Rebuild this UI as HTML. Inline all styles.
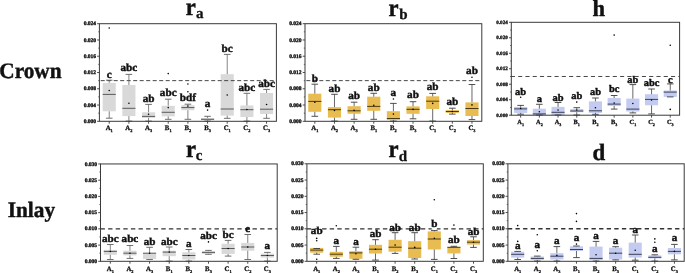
<!DOCTYPE html>
<html><head><meta charset="utf-8"><title>fig</title>
<style>
html,body{margin:0;padding:0;background:#fff;}
body{width:685px;height:273px;overflow:hidden;}
svg{display:block;}
svg text{font-family:'Liberation Serif', serif;font-weight:bold;text-rendering:geometricPrecision;fill:#111;stroke:#111;stroke-width:0.42px;stroke-linejoin:round;}
svg text.big{stroke-width:0.45px;}
svg text.tk{stroke-width:0.34px;}
svg text.xl{stroke-width:0.28px;}
svg text.sub{stroke-width:0.3px;}
</style></head><body>
<svg width="685" height="273" viewBox="0 0 685 273">
<defs><filter id="nf" filterUnits="userSpaceOnUse" x="0" y="0" width="685" height="273" color-interpolation-filters="sRGB"><feGaussianBlur stdDeviation="0.38"/></filter></defs>
<rect width="685" height="273" fill="#fff"/>
<g filter="url(#nf)">
<text class="big" transform="translate(-0.7 78) scale(0.962 1)" font-size="22.1">Crown</text>
<text class="big" transform="translate(7.7 217.1) scale(0.968 1)" font-size="22.0">Inlay</text>
<g>
<rect x="102.68" y="82.90" width="13.10" height="28.40" fill="#d9d9d9"/>
<rect x="122.35" y="85.00" width="13.10" height="31.10" fill="#d9d9d9"/>
<rect x="142.02" y="112.30" width="13.10" height="5.60" fill="#d9d9d9"/>
<rect x="161.68" y="105.80" width="13.10" height="10.60" fill="#d9d9d9"/>
<rect x="181.35" y="105.20" width="13.10" height="5.00" fill="#d9d9d9"/>
<rect x="201.02" y="118.00" width="13.10" height="2.20" fill="#d9d9d9"/>
<rect x="220.68" y="74.20" width="13.10" height="41.40" fill="#d9d9d9"/>
<rect x="240.35" y="105.50" width="13.10" height="11.50" fill="#d9d9d9"/>
<rect x="260.02" y="93.00" width="13.10" height="21.00" fill="#d9d9d9"/>
<line x1="100.70" y1="80.63" x2="276.40" y2="80.63" stroke="#333" stroke-width="0.90" stroke-dasharray="4.00 2.50"/>
<line x1="109.23" y1="80.20" x2="109.23" y2="82.90" stroke="#606060" stroke-width="0.78"/>
<line x1="105.93" y1="80.20" x2="112.53" y2="80.20" stroke="#606060" stroke-width="0.9"/>
<line x1="109.23" y1="111.30" x2="109.23" y2="118.20" stroke="#606060" stroke-width="0.78"/>
<line x1="105.93" y1="118.20" x2="112.53" y2="118.20" stroke="#606060" stroke-width="0.9"/>
<line x1="102.68" y1="94.40" x2="115.78" y2="94.40" stroke="#5a5a5a" stroke-width="1.0"/>
<circle cx="109.23" cy="90.50" r="0.8" fill="#000"/>
<circle cx="109.23" cy="28.00" r="0.8" fill="#000"/>
<text transform="translate(109.23 77.70) scale(1.020 1)" font-size="11.0" text-anchor="middle">c</text>
<line x1="128.90" y1="74.40" x2="128.90" y2="85.00" stroke="#606060" stroke-width="0.78"/>
<line x1="125.60" y1="74.40" x2="132.20" y2="74.40" stroke="#606060" stroke-width="0.9"/>
<line x1="128.90" y1="116.10" x2="128.90" y2="121.10" stroke="#606060" stroke-width="0.78"/>
<line x1="125.60" y1="121.10" x2="132.20" y2="121.10" stroke="#606060" stroke-width="0.9"/>
<line x1="122.35" y1="108.30" x2="135.45" y2="108.30" stroke="#5a5a5a" stroke-width="1.0"/>
<circle cx="128.90" cy="103.20" r="0.8" fill="#000"/>
<text transform="translate(128.90 71.40) scale(1.020 1)" font-size="11.0" text-anchor="middle">abc</text>
<line x1="148.57" y1="104.40" x2="148.57" y2="112.30" stroke="#606060" stroke-width="0.78"/>
<line x1="145.27" y1="104.40" x2="151.87" y2="104.40" stroke="#606060" stroke-width="0.9"/>
<line x1="148.57" y1="117.90" x2="148.57" y2="121.10" stroke="#606060" stroke-width="0.78"/>
<line x1="145.27" y1="121.10" x2="151.87" y2="121.10" stroke="#606060" stroke-width="0.9"/>
<line x1="142.02" y1="116.40" x2="155.12" y2="116.40" stroke="#5a5a5a" stroke-width="1.0"/>
<circle cx="148.57" cy="114.20" r="0.8" fill="#000"/>
<text transform="translate(148.57 101.70) scale(1.020 1)" font-size="11.0" text-anchor="middle">ab</text>
<line x1="168.23" y1="99.20" x2="168.23" y2="105.80" stroke="#606060" stroke-width="0.78"/>
<line x1="164.93" y1="99.20" x2="171.53" y2="99.20" stroke="#606060" stroke-width="0.9"/>
<line x1="168.23" y1="116.40" x2="168.23" y2="119.30" stroke="#606060" stroke-width="0.78"/>
<line x1="164.93" y1="119.30" x2="171.53" y2="119.30" stroke="#606060" stroke-width="0.9"/>
<line x1="161.68" y1="112.30" x2="174.78" y2="112.30" stroke="#5a5a5a" stroke-width="1.0"/>
<circle cx="168.23" cy="107.60" r="0.8" fill="#000"/>
<circle cx="168.23" cy="73.60" r="0.8" fill="#000"/>
<text transform="translate(168.23 96.40) scale(1.020 1)" font-size="11.0" text-anchor="middle">abc</text>
<line x1="187.90" y1="104.20" x2="187.90" y2="105.20" stroke="#606060" stroke-width="0.78"/>
<line x1="184.60" y1="104.20" x2="191.20" y2="104.20" stroke="#606060" stroke-width="0.9"/>
<line x1="187.90" y1="110.20" x2="187.90" y2="119.30" stroke="#606060" stroke-width="0.78"/>
<line x1="184.60" y1="119.30" x2="191.20" y2="119.30" stroke="#606060" stroke-width="0.9"/>
<line x1="181.35" y1="107.60" x2="194.45" y2="107.60" stroke="#5a5a5a" stroke-width="1.0"/>
<circle cx="187.90" cy="106.10" r="0.8" fill="#000"/>
<circle cx="187.90" cy="84.00" r="0.8" fill="#000"/>
<circle cx="187.90" cy="91.70" r="0.8" fill="#000"/>
<text transform="translate(187.90 101.30) scale(1.020 1)" font-size="11.0" text-anchor="middle">bdf</text>
<line x1="207.57" y1="116.30" x2="207.57" y2="118.00" stroke="#606060" stroke-width="0.78"/>
<line x1="204.27" y1="116.30" x2="210.87" y2="116.30" stroke="#606060" stroke-width="0.9"/>
<line x1="207.57" y1="120.20" x2="207.57" y2="121.10" stroke="#606060" stroke-width="0.78"/>
<line x1="204.27" y1="121.10" x2="210.87" y2="121.10" stroke="#606060" stroke-width="0.9"/>
<line x1="201.02" y1="119.30" x2="214.12" y2="119.30" stroke="#5a5a5a" stroke-width="1.0"/>
<circle cx="207.57" cy="110.10" r="0.8" fill="#000"/>
<text transform="translate(207.57 107.30) scale(1.020 1)" font-size="11.0" text-anchor="middle">a</text>
<line x1="227.23" y1="54.40" x2="227.23" y2="74.20" stroke="#606060" stroke-width="0.78"/>
<line x1="223.93" y1="54.40" x2="230.53" y2="54.40" stroke="#606060" stroke-width="0.9"/>
<line x1="227.23" y1="115.60" x2="227.23" y2="118.30" stroke="#606060" stroke-width="0.78"/>
<line x1="223.93" y1="118.30" x2="230.53" y2="118.30" stroke="#606060" stroke-width="0.9"/>
<line x1="220.68" y1="109.00" x2="233.78" y2="109.00" stroke="#5a5a5a" stroke-width="1.0"/>
<circle cx="227.23" cy="95.00" r="0.8" fill="#000"/>
<text transform="translate(227.23 51.50) scale(1.020 1)" font-size="11.0" text-anchor="middle">bc</text>
<line x1="246.90" y1="93.30" x2="246.90" y2="105.50" stroke="#606060" stroke-width="0.78"/>
<line x1="243.60" y1="93.30" x2="250.20" y2="93.30" stroke="#606060" stroke-width="0.9"/>
<line x1="246.90" y1="117.00" x2="246.90" y2="121.10" stroke="#606060" stroke-width="0.78"/>
<line x1="243.60" y1="121.10" x2="250.20" y2="121.10" stroke="#606060" stroke-width="0.9"/>
<line x1="240.35" y1="109.70" x2="253.45" y2="109.70" stroke="#5a5a5a" stroke-width="1.0"/>
<circle cx="246.90" cy="109.50" r="0.8" fill="#000"/>
<text transform="translate(246.90 90.80) scale(1.020 1)" font-size="11.0" text-anchor="middle">abc</text>
<line x1="266.57" y1="89.40" x2="266.57" y2="93.00" stroke="#606060" stroke-width="0.78"/>
<line x1="263.27" y1="89.40" x2="269.87" y2="89.40" stroke="#606060" stroke-width="0.9"/>
<line x1="266.57" y1="114.00" x2="266.57" y2="118.30" stroke="#606060" stroke-width="0.78"/>
<line x1="263.27" y1="118.30" x2="269.87" y2="118.30" stroke="#606060" stroke-width="0.9"/>
<line x1="260.02" y1="109.20" x2="273.12" y2="109.20" stroke="#5a5a5a" stroke-width="1.0"/>
<circle cx="266.57" cy="104.50" r="0.8" fill="#000"/>
<text transform="translate(266.57 86.70) scale(1.020 1)" font-size="11.0" text-anchor="middle">abc</text>
<rect x="99.40" y="23.70" width="177.00" height="97.60" fill="none" stroke="#3a3a3a" stroke-width="1"/>
<line x1="97.10" y1="121.30" x2="99.40" y2="121.30" stroke="#3a3a3a" stroke-width="0.9"/>
<line x1="98.20" y1="113.17" x2="99.40" y2="113.17" stroke="#3a3a3a" stroke-width="0.7"/>
<text x="96.00" y="122.90" class="tk" font-size="5.5" text-anchor="end">0.000</text>
<line x1="97.10" y1="105.03" x2="99.40" y2="105.03" stroke="#3a3a3a" stroke-width="0.9"/>
<line x1="98.20" y1="96.90" x2="99.40" y2="96.90" stroke="#3a3a3a" stroke-width="0.7"/>
<text x="96.00" y="106.63" class="tk" font-size="5.5" text-anchor="end">0.004</text>
<line x1="97.10" y1="88.77" x2="99.40" y2="88.77" stroke="#3a3a3a" stroke-width="0.9"/>
<line x1="98.20" y1="80.63" x2="99.40" y2="80.63" stroke="#3a3a3a" stroke-width="0.7"/>
<text x="96.00" y="90.37" class="tk" font-size="5.5" text-anchor="end">0.008</text>
<line x1="97.10" y1="72.50" x2="99.40" y2="72.50" stroke="#3a3a3a" stroke-width="0.9"/>
<line x1="98.20" y1="64.37" x2="99.40" y2="64.37" stroke="#3a3a3a" stroke-width="0.7"/>
<text x="96.00" y="74.10" class="tk" font-size="5.5" text-anchor="end">0.012</text>
<line x1="97.10" y1="56.23" x2="99.40" y2="56.23" stroke="#3a3a3a" stroke-width="0.9"/>
<line x1="98.20" y1="48.10" x2="99.40" y2="48.10" stroke="#3a3a3a" stroke-width="0.7"/>
<text x="96.00" y="57.83" class="tk" font-size="5.5" text-anchor="end">0.016</text>
<line x1="97.10" y1="39.97" x2="99.40" y2="39.97" stroke="#3a3a3a" stroke-width="0.9"/>
<line x1="98.20" y1="31.83" x2="99.40" y2="31.83" stroke="#3a3a3a" stroke-width="0.7"/>
<text x="96.00" y="41.57" class="tk" font-size="5.5" text-anchor="end">0.020</text>
<line x1="97.10" y1="23.70" x2="99.40" y2="23.70" stroke="#3a3a3a" stroke-width="0.9"/>
<text x="96.00" y="25.30" class="tk" font-size="5.5" text-anchor="end">0.024</text>
<line x1="109.23" y1="121.30" x2="109.23" y2="123.70" stroke="#3a3a3a" stroke-width="0.9"/>
<text class="xl" x="109.23" y="130.40" font-size="6.80" text-anchor="middle">A<tspan font-size="4.35" dy="1.8">1</tspan></text>
<line x1="128.90" y1="121.30" x2="128.90" y2="123.70" stroke="#3a3a3a" stroke-width="0.9"/>
<text class="xl" x="128.90" y="130.40" font-size="6.80" text-anchor="middle">A<tspan font-size="4.35" dy="1.8">2</tspan></text>
<line x1="148.57" y1="121.30" x2="148.57" y2="123.70" stroke="#3a3a3a" stroke-width="0.9"/>
<text class="xl" x="148.57" y="130.40" font-size="6.80" text-anchor="middle">A<tspan font-size="4.35" dy="1.8">3</tspan></text>
<line x1="168.23" y1="121.30" x2="168.23" y2="123.70" stroke="#3a3a3a" stroke-width="0.9"/>
<text class="xl" x="168.23" y="130.40" font-size="6.80" text-anchor="middle">B<tspan font-size="4.35" dy="1.8">1</tspan></text>
<line x1="187.90" y1="121.30" x2="187.90" y2="123.70" stroke="#3a3a3a" stroke-width="0.9"/>
<text class="xl" x="187.90" y="130.40" font-size="6.80" text-anchor="middle">B<tspan font-size="4.35" dy="1.8">2</tspan></text>
<line x1="207.57" y1="121.30" x2="207.57" y2="123.70" stroke="#3a3a3a" stroke-width="0.9"/>
<text class="xl" x="207.57" y="130.40" font-size="6.80" text-anchor="middle">B<tspan font-size="4.35" dy="1.8">3</tspan></text>
<line x1="227.23" y1="121.30" x2="227.23" y2="123.70" stroke="#3a3a3a" stroke-width="0.9"/>
<text class="xl" x="227.23" y="130.40" font-size="6.80" text-anchor="middle">C<tspan font-size="4.35" dy="1.8">1</tspan></text>
<line x1="246.90" y1="121.30" x2="246.90" y2="123.70" stroke="#3a3a3a" stroke-width="0.9"/>
<text class="xl" x="246.90" y="130.40" font-size="6.80" text-anchor="middle">C<tspan font-size="4.35" dy="1.8">2</tspan></text>
<line x1="266.57" y1="121.30" x2="266.57" y2="123.70" stroke="#3a3a3a" stroke-width="0.9"/>
<text class="xl" x="266.57" y="130.40" font-size="6.80" text-anchor="middle">C<tspan font-size="4.35" dy="1.8">3</tspan></text>
<text class="big" transform="translate(185.70 15.30) scale(0.920 1)" font-size="24.6">r</text>
<text class="sub" x="196.10" y="18.20" font-size="15.0">a</text>
</g>
<g>
<rect x="308.27" y="93.70" width="13.10" height="18.10" fill="#e8bc50"/>
<rect x="327.92" y="107.10" width="13.10" height="10.50" fill="#e8bc50"/>
<rect x="347.56" y="106.20" width="13.10" height="7.60" fill="#e8bc50"/>
<rect x="367.21" y="96.70" width="13.10" height="14.10" fill="#e8bc50"/>
<rect x="386.85" y="111.20" width="13.10" height="8.70" fill="#e8bc50"/>
<rect x="406.49" y="106.40" width="13.10" height="7.40" fill="#e8bc50"/>
<rect x="426.14" y="96.30" width="13.10" height="12.70" fill="#e8bc50"/>
<rect x="445.78" y="110.10" width="13.10" height="2.80" fill="#e8bc50"/>
<rect x="465.43" y="102.40" width="13.10" height="13.60" fill="#e8bc50"/>
<line x1="306.30" y1="80.63" x2="481.80" y2="80.63" stroke="#333" stroke-width="0.90" stroke-dasharray="4.00 2.50"/>
<line x1="314.82" y1="84.20" x2="314.82" y2="93.70" stroke="#3c3c3c" stroke-width="0.78"/>
<line x1="311.52" y1="84.20" x2="318.12" y2="84.20" stroke="#3c3c3c" stroke-width="0.9"/>
<line x1="314.82" y1="111.80" x2="314.82" y2="116.30" stroke="#3c3c3c" stroke-width="0.78"/>
<line x1="311.52" y1="116.30" x2="318.12" y2="116.30" stroke="#3c3c3c" stroke-width="0.9"/>
<line x1="308.27" y1="101.40" x2="321.37" y2="101.40" stroke="#4a3a12" stroke-width="1.0"/>
<circle cx="314.82" cy="102.20" r="0.8" fill="#000"/>
<text transform="translate(314.82 82.10) scale(1.020 1)" font-size="11.0" text-anchor="middle">b</text>
<line x1="334.47" y1="94.30" x2="334.47" y2="107.10" stroke="#3c3c3c" stroke-width="0.78"/>
<line x1="331.17" y1="94.30" x2="337.77" y2="94.30" stroke="#3c3c3c" stroke-width="0.9"/>
<line x1="334.47" y1="117.60" x2="334.47" y2="121.10" stroke="#3c3c3c" stroke-width="0.78"/>
<line x1="331.17" y1="121.10" x2="337.77" y2="121.10" stroke="#3c3c3c" stroke-width="0.9"/>
<line x1="327.92" y1="109.70" x2="341.02" y2="109.70" stroke="#4a3a12" stroke-width="1.0"/>
<circle cx="334.47" cy="110.50" r="0.8" fill="#000"/>
<text transform="translate(334.47 91.70) scale(1.020 1)" font-size="11.0" text-anchor="middle">ab</text>
<line x1="354.11" y1="102.20" x2="354.11" y2="106.20" stroke="#3c3c3c" stroke-width="0.78"/>
<line x1="350.81" y1="102.20" x2="357.41" y2="102.20" stroke="#3c3c3c" stroke-width="0.9"/>
<line x1="354.11" y1="113.80" x2="354.11" y2="119.30" stroke="#3c3c3c" stroke-width="0.78"/>
<line x1="350.81" y1="119.30" x2="357.41" y2="119.30" stroke="#3c3c3c" stroke-width="0.9"/>
<line x1="347.56" y1="110.80" x2="360.66" y2="110.80" stroke="#4a3a12" stroke-width="1.0"/>
<circle cx="354.11" cy="110.40" r="0.8" fill="#000"/>
<text transform="translate(354.11 99.20) scale(1.020 1)" font-size="11.0" text-anchor="middle">ab</text>
<line x1="373.76" y1="93.30" x2="373.76" y2="96.70" stroke="#3c3c3c" stroke-width="0.78"/>
<line x1="370.46" y1="93.30" x2="377.06" y2="93.30" stroke="#3c3c3c" stroke-width="0.9"/>
<line x1="373.76" y1="110.80" x2="373.76" y2="119.30" stroke="#3c3c3c" stroke-width="0.78"/>
<line x1="370.46" y1="119.30" x2="377.06" y2="119.30" stroke="#3c3c3c" stroke-width="0.9"/>
<line x1="367.21" y1="106.40" x2="380.31" y2="106.40" stroke="#4a3a12" stroke-width="1.0"/>
<circle cx="373.76" cy="105.20" r="0.8" fill="#000"/>
<text transform="translate(373.76 91.00) scale(1.020 1)" font-size="11.0" text-anchor="middle">ab</text>
<line x1="393.40" y1="103.40" x2="393.40" y2="111.20" stroke="#3c3c3c" stroke-width="0.78"/>
<line x1="390.10" y1="103.40" x2="396.70" y2="103.40" stroke="#3c3c3c" stroke-width="0.9"/>
<line x1="393.40" y1="119.90" x2="393.40" y2="121.10" stroke="#3c3c3c" stroke-width="0.78"/>
<line x1="390.10" y1="121.10" x2="396.70" y2="121.10" stroke="#3c3c3c" stroke-width="0.9"/>
<line x1="386.85" y1="118.50" x2="399.95" y2="118.50" stroke="#4a3a12" stroke-width="1.0"/>
<circle cx="393.40" cy="114.10" r="0.8" fill="#000"/>
<circle cx="393.40" cy="99.00" r="0.8" fill="#000"/>
<text transform="translate(393.40 95.80) scale(1.020 1)" font-size="11.0" text-anchor="middle">a</text>
<line x1="413.04" y1="101.70" x2="413.04" y2="106.40" stroke="#3c3c3c" stroke-width="0.78"/>
<line x1="409.74" y1="101.70" x2="416.34" y2="101.70" stroke="#3c3c3c" stroke-width="0.9"/>
<line x1="413.04" y1="113.80" x2="413.04" y2="118.80" stroke="#3c3c3c" stroke-width="0.78"/>
<line x1="409.74" y1="118.80" x2="416.34" y2="118.80" stroke="#3c3c3c" stroke-width="0.9"/>
<line x1="406.49" y1="109.30" x2="419.59" y2="109.30" stroke="#4a3a12" stroke-width="1.0"/>
<circle cx="413.04" cy="109.40" r="0.8" fill="#000"/>
<text transform="translate(413.04 98.30) scale(1.020 1)" font-size="11.0" text-anchor="middle">ab</text>
<line x1="432.69" y1="93.40" x2="432.69" y2="96.30" stroke="#3c3c3c" stroke-width="0.78"/>
<line x1="429.39" y1="93.40" x2="435.99" y2="93.40" stroke="#3c3c3c" stroke-width="0.9"/>
<line x1="432.69" y1="109.00" x2="432.69" y2="121.10" stroke="#3c3c3c" stroke-width="0.78"/>
<line x1="429.39" y1="121.10" x2="435.99" y2="121.10" stroke="#3c3c3c" stroke-width="0.9"/>
<line x1="426.14" y1="101.20" x2="439.24" y2="101.20" stroke="#4a3a12" stroke-width="1.0"/>
<circle cx="432.69" cy="103.40" r="0.8" fill="#000"/>
<text transform="translate(432.69 90.40) scale(1.020 1)" font-size="11.0" text-anchor="middle">ab</text>
<line x1="452.33" y1="108.20" x2="452.33" y2="110.10" stroke="#3c3c3c" stroke-width="0.78"/>
<line x1="449.03" y1="108.20" x2="455.63" y2="108.20" stroke="#3c3c3c" stroke-width="0.9"/>
<line x1="452.33" y1="112.90" x2="452.33" y2="114.10" stroke="#3c3c3c" stroke-width="0.78"/>
<line x1="449.03" y1="114.10" x2="455.63" y2="114.10" stroke="#3c3c3c" stroke-width="0.9"/>
<line x1="445.78" y1="111.50" x2="458.88" y2="111.50" stroke="#4a3a12" stroke-width="1.0"/>
<circle cx="452.33" cy="111.50" r="0.8" fill="#000"/>
<text transform="translate(452.33 105.30) scale(1.020 1)" font-size="11.0" text-anchor="middle">ab</text>
<line x1="471.98" y1="84.50" x2="471.98" y2="102.40" stroke="#3c3c3c" stroke-width="0.78"/>
<line x1="468.68" y1="84.50" x2="475.28" y2="84.50" stroke="#3c3c3c" stroke-width="0.9"/>
<line x1="471.98" y1="116.00" x2="471.98" y2="119.60" stroke="#3c3c3c" stroke-width="0.78"/>
<line x1="468.68" y1="119.60" x2="475.28" y2="119.60" stroke="#3c3c3c" stroke-width="0.9"/>
<line x1="465.43" y1="108.50" x2="478.53" y2="108.50" stroke="#4a3a12" stroke-width="1.0"/>
<circle cx="471.98" cy="104.90" r="0.8" fill="#000"/>
<circle cx="471.98" cy="77.20" r="0.8" fill="#000"/>
<text transform="translate(471.98 74.20) scale(1.020 1)" font-size="11.0" text-anchor="middle">ab</text>
<rect x="305.00" y="23.70" width="176.80" height="97.60" fill="none" stroke="#3a3a3a" stroke-width="1"/>
<line x1="302.70" y1="121.30" x2="305.00" y2="121.30" stroke="#3a3a3a" stroke-width="0.9"/>
<line x1="303.80" y1="113.17" x2="305.00" y2="113.17" stroke="#3a3a3a" stroke-width="0.7"/>
<text x="301.60" y="122.90" class="tk" font-size="5.5" text-anchor="end">0.000</text>
<line x1="302.70" y1="105.03" x2="305.00" y2="105.03" stroke="#3a3a3a" stroke-width="0.9"/>
<line x1="303.80" y1="96.90" x2="305.00" y2="96.90" stroke="#3a3a3a" stroke-width="0.7"/>
<text x="301.60" y="106.63" class="tk" font-size="5.5" text-anchor="end">0.004</text>
<line x1="302.70" y1="88.77" x2="305.00" y2="88.77" stroke="#3a3a3a" stroke-width="0.9"/>
<line x1="303.80" y1="80.63" x2="305.00" y2="80.63" stroke="#3a3a3a" stroke-width="0.7"/>
<text x="301.60" y="90.37" class="tk" font-size="5.5" text-anchor="end">0.008</text>
<line x1="302.70" y1="72.50" x2="305.00" y2="72.50" stroke="#3a3a3a" stroke-width="0.9"/>
<line x1="303.80" y1="64.37" x2="305.00" y2="64.37" stroke="#3a3a3a" stroke-width="0.7"/>
<text x="301.60" y="74.10" class="tk" font-size="5.5" text-anchor="end">0.012</text>
<line x1="302.70" y1="56.23" x2="305.00" y2="56.23" stroke="#3a3a3a" stroke-width="0.9"/>
<line x1="303.80" y1="48.10" x2="305.00" y2="48.10" stroke="#3a3a3a" stroke-width="0.7"/>
<text x="301.60" y="57.83" class="tk" font-size="5.5" text-anchor="end">0.016</text>
<line x1="302.70" y1="39.97" x2="305.00" y2="39.97" stroke="#3a3a3a" stroke-width="0.9"/>
<line x1="303.80" y1="31.83" x2="305.00" y2="31.83" stroke="#3a3a3a" stroke-width="0.7"/>
<text x="301.60" y="41.57" class="tk" font-size="5.5" text-anchor="end">0.020</text>
<line x1="302.70" y1="23.70" x2="305.00" y2="23.70" stroke="#3a3a3a" stroke-width="0.9"/>
<text x="301.60" y="25.30" class="tk" font-size="5.5" text-anchor="end">0.024</text>
<line x1="314.82" y1="121.30" x2="314.82" y2="123.70" stroke="#3a3a3a" stroke-width="0.9"/>
<text class="xl" x="314.82" y="130.40" font-size="6.80" text-anchor="middle">A<tspan font-size="4.35" dy="1.8">1</tspan></text>
<line x1="334.47" y1="121.30" x2="334.47" y2="123.70" stroke="#3a3a3a" stroke-width="0.9"/>
<text class="xl" x="334.47" y="130.40" font-size="6.80" text-anchor="middle">A<tspan font-size="4.35" dy="1.8">2</tspan></text>
<line x1="354.11" y1="121.30" x2="354.11" y2="123.70" stroke="#3a3a3a" stroke-width="0.9"/>
<text class="xl" x="354.11" y="130.40" font-size="6.80" text-anchor="middle">A<tspan font-size="4.35" dy="1.8">3</tspan></text>
<line x1="373.76" y1="121.30" x2="373.76" y2="123.70" stroke="#3a3a3a" stroke-width="0.9"/>
<text class="xl" x="373.76" y="130.40" font-size="6.80" text-anchor="middle">B<tspan font-size="4.35" dy="1.8">1</tspan></text>
<line x1="393.40" y1="121.30" x2="393.40" y2="123.70" stroke="#3a3a3a" stroke-width="0.9"/>
<text class="xl" x="393.40" y="130.40" font-size="6.80" text-anchor="middle">B<tspan font-size="4.35" dy="1.8">2</tspan></text>
<line x1="413.04" y1="121.30" x2="413.04" y2="123.70" stroke="#3a3a3a" stroke-width="0.9"/>
<text class="xl" x="413.04" y="130.40" font-size="6.80" text-anchor="middle">B<tspan font-size="4.35" dy="1.8">3</tspan></text>
<line x1="432.69" y1="121.30" x2="432.69" y2="123.70" stroke="#3a3a3a" stroke-width="0.9"/>
<text class="xl" x="432.69" y="130.40" font-size="6.80" text-anchor="middle">C<tspan font-size="4.35" dy="1.8">1</tspan></text>
<line x1="452.33" y1="121.30" x2="452.33" y2="123.70" stroke="#3a3a3a" stroke-width="0.9"/>
<text class="xl" x="452.33" y="130.40" font-size="6.80" text-anchor="middle">C<tspan font-size="4.35" dy="1.8">2</tspan></text>
<line x1="471.98" y1="121.30" x2="471.98" y2="123.70" stroke="#3a3a3a" stroke-width="0.9"/>
<text class="xl" x="471.98" y="130.40" font-size="6.80" text-anchor="middle">C<tspan font-size="4.35" dy="1.8">3</tspan></text>
<text class="big" transform="translate(388.50 16.00) scale(0.920 1)" font-size="24.6">r</text>
<text class="sub" x="399.30" y="18.60" font-size="15.0">b</text>
</g>
<g>
<rect x="514.10" y="106.90" width="13.10" height="6.00" fill="#c3cbf0"/>
<rect x="532.80" y="108.70" width="13.10" height="6.30" fill="#c3cbf0"/>
<rect x="551.50" y="106.90" width="13.10" height="8.10" fill="#c3cbf0"/>
<rect x="570.20" y="109.00" width="13.10" height="3.20" fill="#c3cbf0"/>
<rect x="588.90" y="101.40" width="13.10" height="11.50" fill="#c3cbf0"/>
<rect x="607.60" y="98.00" width="13.10" height="8.00" fill="#c3cbf0"/>
<rect x="626.30" y="98.60" width="13.10" height="12.90" fill="#c3cbf0"/>
<rect x="645.00" y="94.20" width="13.10" height="11.10" fill="#c3cbf0"/>
<rect x="663.70" y="90.50" width="13.10" height="6.40" fill="#c3cbf0"/>
<line x1="510.85" y1="76.49" x2="679.60" y2="76.49" stroke="#333" stroke-width="0.90" stroke-dasharray="4.10 3.18"/>
<line x1="520.65" y1="105.40" x2="520.65" y2="106.90" stroke="#3c3c3c" stroke-width="0.78"/>
<line x1="517.35" y1="105.40" x2="523.95" y2="105.40" stroke="#3c3c3c" stroke-width="0.9"/>
<line x1="520.65" y1="112.90" x2="520.65" y2="114.20" stroke="#3c3c3c" stroke-width="0.78"/>
<line x1="517.35" y1="114.20" x2="523.95" y2="114.20" stroke="#3c3c3c" stroke-width="0.9"/>
<line x1="514.10" y1="108.90" x2="527.20" y2="108.90" stroke="#3c4058" stroke-width="1.0"/>
<circle cx="520.65" cy="108.40" r="0.8" fill="#000"/>
<circle cx="520.65" cy="97.20" r="0.8" fill="#000"/>
<text transform="translate(520.65 94.90) scale(1.030 1)" font-size="10.2" text-anchor="middle">ab</text>
<line x1="539.35" y1="104.30" x2="539.35" y2="108.70" stroke="#3c3c3c" stroke-width="0.78"/>
<line x1="536.05" y1="104.30" x2="542.65" y2="104.30" stroke="#3c3c3c" stroke-width="0.9"/>
<line x1="539.35" y1="114.70" x2="539.35" y2="115.00" stroke="#3c3c3c" stroke-width="0.78"/>
<line x1="536.05" y1="115.00" x2="542.65" y2="115.00" stroke="#3c3c3c" stroke-width="0.9"/>
<line x1="532.80" y1="113.90" x2="545.90" y2="113.90" stroke="#3c4058" stroke-width="1.0"/>
<circle cx="539.35" cy="111.70" r="0.8" fill="#000"/>
<text transform="translate(539.35 101.70) scale(1.030 1)" font-size="10.2" text-anchor="middle">a</text>
<line x1="558.05" y1="102.50" x2="558.05" y2="106.90" stroke="#3c3c3c" stroke-width="0.78"/>
<line x1="554.75" y1="102.50" x2="561.35" y2="102.50" stroke="#3c3c3c" stroke-width="0.9"/>
<line x1="558.05" y1="114.70" x2="558.05" y2="115.00" stroke="#3c3c3c" stroke-width="0.78"/>
<line x1="554.75" y1="115.00" x2="561.35" y2="115.00" stroke="#3c3c3c" stroke-width="0.9"/>
<line x1="551.50" y1="112.30" x2="564.60" y2="112.30" stroke="#3c4058" stroke-width="1.0"/>
<circle cx="558.05" cy="110.00" r="0.8" fill="#000"/>
<text transform="translate(558.05 100.50) scale(1.030 1)" font-size="10.2" text-anchor="middle">ab</text>
<line x1="576.75" y1="107.70" x2="576.75" y2="109.00" stroke="#3c3c3c" stroke-width="0.78"/>
<line x1="573.45" y1="107.70" x2="580.05" y2="107.70" stroke="#3c3c3c" stroke-width="0.9"/>
<line x1="576.75" y1="112.20" x2="576.75" y2="115.00" stroke="#3c3c3c" stroke-width="0.78"/>
<line x1="573.45" y1="115.00" x2="580.05" y2="115.00" stroke="#3c3c3c" stroke-width="0.9"/>
<line x1="570.20" y1="111.00" x2="583.30" y2="111.00" stroke="#3c4058" stroke-width="1.0"/>
<circle cx="576.75" cy="110.00" r="0.8" fill="#000"/>
<circle cx="576.75" cy="102.10" r="0.8" fill="#000"/>
<text transform="translate(576.75 99.20) scale(1.030 1)" font-size="10.2" text-anchor="middle">ab</text>
<line x1="595.45" y1="98.00" x2="595.45" y2="101.40" stroke="#3c3c3c" stroke-width="0.78"/>
<line x1="592.15" y1="98.00" x2="598.75" y2="98.00" stroke="#3c3c3c" stroke-width="0.9"/>
<line x1="595.45" y1="112.90" x2="595.45" y2="114.30" stroke="#3c3c3c" stroke-width="0.78"/>
<line x1="592.15" y1="114.30" x2="598.75" y2="114.30" stroke="#3c3c3c" stroke-width="0.9"/>
<line x1="588.90" y1="110.80" x2="602.00" y2="110.80" stroke="#3c4058" stroke-width="1.0"/>
<circle cx="595.45" cy="107.80" r="0.8" fill="#000"/>
<text transform="translate(595.45 94.90) scale(1.030 1)" font-size="10.2" text-anchor="middle">ab</text>
<line x1="614.15" y1="95.50" x2="614.15" y2="98.00" stroke="#3c3c3c" stroke-width="0.78"/>
<line x1="610.85" y1="95.50" x2="617.45" y2="95.50" stroke="#3c3c3c" stroke-width="0.9"/>
<line x1="614.15" y1="106.00" x2="614.15" y2="109.10" stroke="#3c3c3c" stroke-width="0.78"/>
<line x1="610.85" y1="109.10" x2="617.45" y2="109.10" stroke="#3c3c3c" stroke-width="0.9"/>
<line x1="607.60" y1="104.10" x2="620.70" y2="104.10" stroke="#3c4058" stroke-width="1.0"/>
<circle cx="614.15" cy="103.00" r="0.8" fill="#000"/>
<circle cx="614.15" cy="35.10" r="0.8" fill="#000"/>
<text transform="translate(614.15 92.20) scale(1.030 1)" font-size="10.2" text-anchor="middle">bc</text>
<line x1="632.85" y1="84.60" x2="632.85" y2="98.60" stroke="#3c3c3c" stroke-width="0.78"/>
<line x1="629.55" y1="84.60" x2="636.15" y2="84.60" stroke="#3c3c3c" stroke-width="0.9"/>
<line x1="632.85" y1="111.50" x2="632.85" y2="112.90" stroke="#3c3c3c" stroke-width="0.78"/>
<line x1="629.55" y1="112.90" x2="636.15" y2="112.90" stroke="#3c3c3c" stroke-width="0.9"/>
<line x1="626.30" y1="109.10" x2="639.40" y2="109.10" stroke="#3c4058" stroke-width="1.0"/>
<circle cx="632.85" cy="103.50" r="0.8" fill="#000"/>
<text transform="translate(632.85 82.80) scale(1.030 1)" font-size="10.2" text-anchor="middle">ab</text>
<line x1="651.55" y1="89.00" x2="651.55" y2="94.20" stroke="#3c3c3c" stroke-width="0.78"/>
<line x1="648.25" y1="89.00" x2="654.85" y2="89.00" stroke="#3c3c3c" stroke-width="0.9"/>
<line x1="651.55" y1="105.30" x2="651.55" y2="113.90" stroke="#3c3c3c" stroke-width="0.78"/>
<line x1="648.25" y1="113.90" x2="654.85" y2="113.90" stroke="#3c3c3c" stroke-width="0.9"/>
<line x1="645.00" y1="99.40" x2="658.10" y2="99.40" stroke="#3c4058" stroke-width="1.0"/>
<circle cx="651.55" cy="100.00" r="0.8" fill="#000"/>
<text transform="translate(651.55 86.40) scale(1.030 1)" font-size="10.2" text-anchor="middle">abc</text>
<line x1="670.25" y1="83.90" x2="670.25" y2="90.50" stroke="#3c3c3c" stroke-width="0.78"/>
<line x1="666.95" y1="83.90" x2="673.55" y2="83.90" stroke="#3c3c3c" stroke-width="0.9"/>
<line x1="666.95" y1="96.90" x2="673.55" y2="96.90" stroke="#3c3c3c" stroke-width="0.9"/>
<line x1="663.70" y1="92.10" x2="676.80" y2="92.10" stroke="#3c4058" stroke-width="1.0"/>
<circle cx="670.25" cy="45.20" r="0.8" fill="#000"/>
<circle cx="670.25" cy="109.40" r="0.8" fill="#000"/>
<text transform="translate(670.25 82.80) scale(1.030 1)" font-size="10.2" text-anchor="middle">c</text>
<rect x="511.30" y="22.30" width="168.30" height="92.90" fill="none" stroke="#3a3a3a" stroke-width="1"/>
<line x1="509.00" y1="115.20" x2="511.30" y2="115.20" stroke="#3a3a3a" stroke-width="0.9"/>
<line x1="510.10" y1="107.46" x2="511.30" y2="107.46" stroke="#3a3a3a" stroke-width="0.7"/>
<text x="507.90" y="116.80" class="tk" font-size="5.2" text-anchor="end">0.000</text>
<line x1="509.00" y1="99.72" x2="511.30" y2="99.72" stroke="#3a3a3a" stroke-width="0.9"/>
<line x1="510.10" y1="91.97" x2="511.30" y2="91.97" stroke="#3a3a3a" stroke-width="0.7"/>
<text x="507.90" y="101.32" class="tk" font-size="5.2" text-anchor="end">0.004</text>
<line x1="509.00" y1="84.23" x2="511.30" y2="84.23" stroke="#3a3a3a" stroke-width="0.9"/>
<line x1="510.10" y1="76.49" x2="511.30" y2="76.49" stroke="#3a3a3a" stroke-width="0.7"/>
<text x="507.90" y="85.83" class="tk" font-size="5.2" text-anchor="end">0.008</text>
<line x1="509.00" y1="68.75" x2="511.30" y2="68.75" stroke="#3a3a3a" stroke-width="0.9"/>
<line x1="510.10" y1="61.01" x2="511.30" y2="61.01" stroke="#3a3a3a" stroke-width="0.7"/>
<text x="507.90" y="70.35" class="tk" font-size="5.2" text-anchor="end">0.012</text>
<line x1="509.00" y1="53.27" x2="511.30" y2="53.27" stroke="#3a3a3a" stroke-width="0.9"/>
<line x1="510.10" y1="45.52" x2="511.30" y2="45.52" stroke="#3a3a3a" stroke-width="0.7"/>
<text x="507.90" y="54.87" class="tk" font-size="5.2" text-anchor="end">0.016</text>
<line x1="509.00" y1="37.78" x2="511.30" y2="37.78" stroke="#3a3a3a" stroke-width="0.9"/>
<line x1="510.10" y1="30.04" x2="511.30" y2="30.04" stroke="#3a3a3a" stroke-width="0.7"/>
<text x="507.90" y="39.38" class="tk" font-size="5.2" text-anchor="end">0.020</text>
<line x1="509.00" y1="22.30" x2="511.30" y2="22.30" stroke="#3a3a3a" stroke-width="0.9"/>
<text x="507.90" y="23.90" class="tk" font-size="5.2" text-anchor="end">0.024</text>
<line x1="520.65" y1="115.20" x2="520.65" y2="117.60" stroke="#3a3a3a" stroke-width="0.9"/>
<text class="xl" x="520.65" y="124.00" font-size="6.40" text-anchor="middle">A<tspan font-size="4.10" dy="1.8">1</tspan></text>
<line x1="539.35" y1="115.20" x2="539.35" y2="117.60" stroke="#3a3a3a" stroke-width="0.9"/>
<text class="xl" x="539.35" y="124.00" font-size="6.40" text-anchor="middle">A<tspan font-size="4.10" dy="1.8">2</tspan></text>
<line x1="558.05" y1="115.20" x2="558.05" y2="117.60" stroke="#3a3a3a" stroke-width="0.9"/>
<text class="xl" x="558.05" y="124.00" font-size="6.40" text-anchor="middle">A<tspan font-size="4.10" dy="1.8">3</tspan></text>
<line x1="576.75" y1="115.20" x2="576.75" y2="117.60" stroke="#3a3a3a" stroke-width="0.9"/>
<text class="xl" x="576.75" y="124.00" font-size="6.40" text-anchor="middle">B<tspan font-size="4.10" dy="1.8">1</tspan></text>
<line x1="595.45" y1="115.20" x2="595.45" y2="117.60" stroke="#3a3a3a" stroke-width="0.9"/>
<text class="xl" x="595.45" y="124.00" font-size="6.40" text-anchor="middle">B<tspan font-size="4.10" dy="1.8">2</tspan></text>
<line x1="614.15" y1="115.20" x2="614.15" y2="117.60" stroke="#3a3a3a" stroke-width="0.9"/>
<text class="xl" x="614.15" y="124.00" font-size="6.40" text-anchor="middle">B<tspan font-size="4.10" dy="1.8">3</tspan></text>
<line x1="632.85" y1="115.20" x2="632.85" y2="117.60" stroke="#3a3a3a" stroke-width="0.9"/>
<text class="xl" x="632.85" y="124.00" font-size="6.40" text-anchor="middle">C<tspan font-size="4.10" dy="1.8">1</tspan></text>
<line x1="651.55" y1="115.20" x2="651.55" y2="117.60" stroke="#3a3a3a" stroke-width="0.9"/>
<text class="xl" x="651.55" y="124.00" font-size="6.40" text-anchor="middle">C<tspan font-size="4.10" dy="1.8">2</tspan></text>
<line x1="670.25" y1="115.20" x2="670.25" y2="117.60" stroke="#3a3a3a" stroke-width="0.9"/>
<text class="xl" x="670.25" y="124.00" font-size="6.40" text-anchor="middle">C<tspan font-size="4.10" dy="1.8">3</tspan></text>
<text class="big" transform="translate(592.60 16.35) scale(0.970 1)" font-size="23.2">h</text>
</g>
<g>
<rect x="103.77" y="249.90" width="13.10" height="4.90" fill="#d9d9d9"/>
<rect x="123.40" y="250.70" width="13.10" height="4.70" fill="#d9d9d9"/>
<rect x="143.03" y="252.90" width="13.10" height="6.10" fill="#d9d9d9"/>
<rect x="162.67" y="250.70" width="13.10" height="5.50" fill="#d9d9d9"/>
<rect x="182.30" y="252.30" width="13.10" height="7.20" fill="#d9d9d9"/>
<rect x="201.93" y="251.10" width="13.10" height="2.80" fill="#d9d9d9"/>
<rect x="221.57" y="243.80" width="13.10" height="10.10" fill="#d9d9d9"/>
<rect x="241.20" y="242.90" width="13.10" height="7.80" fill="#d9d9d9"/>
<rect x="260.83" y="253.60" width="13.10" height="4.00" fill="#d9d9d9"/>
<line x1="100.50" y1="228.85" x2="277.20" y2="228.85" stroke="#333" stroke-width="1.15" stroke-dasharray="4.40 3.20"/>
<line x1="110.32" y1="244.50" x2="110.32" y2="249.90" stroke="#606060" stroke-width="0.78"/>
<line x1="107.02" y1="244.50" x2="113.62" y2="244.50" stroke="#606060" stroke-width="0.9"/>
<line x1="110.32" y1="254.80" x2="110.32" y2="259.50" stroke="#606060" stroke-width="0.78"/>
<line x1="107.02" y1="259.50" x2="113.62" y2="259.50" stroke="#606060" stroke-width="0.9"/>
<line x1="103.77" y1="251.40" x2="116.87" y2="251.40" stroke="#5a5a5a" stroke-width="1.0"/>
<circle cx="110.32" cy="251.40" r="0.8" fill="#000"/>
<text transform="translate(110.32 241.90) scale(1.050 1)" font-size="10.6" text-anchor="middle">abc</text>
<line x1="129.95" y1="245.50" x2="129.95" y2="250.70" stroke="#606060" stroke-width="0.78"/>
<line x1="126.65" y1="245.50" x2="133.25" y2="245.50" stroke="#606060" stroke-width="0.9"/>
<line x1="129.95" y1="255.40" x2="129.95" y2="258.40" stroke="#606060" stroke-width="0.78"/>
<line x1="126.65" y1="258.40" x2="133.25" y2="258.40" stroke="#606060" stroke-width="0.9"/>
<line x1="123.40" y1="253.20" x2="136.50" y2="253.20" stroke="#5a5a5a" stroke-width="1.0"/>
<circle cx="129.95" cy="253.20" r="0.8" fill="#000"/>
<text transform="translate(129.95 242.30) scale(1.050 1)" font-size="10.6" text-anchor="middle">abc</text>
<line x1="149.58" y1="247.30" x2="149.58" y2="252.90" stroke="#606060" stroke-width="0.78"/>
<line x1="146.28" y1="247.30" x2="152.88" y2="247.30" stroke="#606060" stroke-width="0.9"/>
<line x1="149.58" y1="259.00" x2="149.58" y2="259.50" stroke="#606060" stroke-width="0.78"/>
<line x1="146.28" y1="259.50" x2="152.88" y2="259.50" stroke="#606060" stroke-width="0.9"/>
<line x1="143.03" y1="253.20" x2="156.13" y2="253.20" stroke="#5a5a5a" stroke-width="1.0"/>
<circle cx="149.58" cy="253.20" r="0.8" fill="#000"/>
<text transform="translate(149.58 244.80) scale(1.050 1)" font-size="10.6" text-anchor="middle">ab</text>
<line x1="169.22" y1="247.00" x2="169.22" y2="250.70" stroke="#606060" stroke-width="0.78"/>
<line x1="165.92" y1="247.00" x2="172.52" y2="247.00" stroke="#606060" stroke-width="0.9"/>
<line x1="169.22" y1="256.20" x2="169.22" y2="261.10" stroke="#606060" stroke-width="0.78"/>
<line x1="165.92" y1="261.10" x2="172.52" y2="261.10" stroke="#606060" stroke-width="0.9"/>
<line x1="162.67" y1="252.10" x2="175.77" y2="252.10" stroke="#5a5a5a" stroke-width="1.0"/>
<circle cx="169.22" cy="252.10" r="0.8" fill="#000"/>
<text transform="translate(169.22 244.50) scale(1.050 1)" font-size="10.6" text-anchor="middle">abc</text>
<line x1="188.85" y1="249.50" x2="188.85" y2="252.30" stroke="#606060" stroke-width="0.78"/>
<line x1="185.55" y1="249.50" x2="192.15" y2="249.50" stroke="#606060" stroke-width="0.9"/>
<line x1="188.85" y1="259.50" x2="188.85" y2="261.10" stroke="#606060" stroke-width="0.78"/>
<line x1="185.55" y1="261.10" x2="192.15" y2="261.10" stroke="#606060" stroke-width="0.9"/>
<line x1="182.30" y1="255.50" x2="195.40" y2="255.50" stroke="#5a5a5a" stroke-width="1.0"/>
<circle cx="188.85" cy="255.50" r="0.8" fill="#000"/>
<text transform="translate(188.85 246.70) scale(1.050 1)" font-size="10.6" text-anchor="middle">a</text>
<line x1="208.48" y1="250.40" x2="208.48" y2="251.10" stroke="#606060" stroke-width="0.78"/>
<line x1="205.18" y1="250.40" x2="211.78" y2="250.40" stroke="#606060" stroke-width="0.9"/>
<line x1="208.48" y1="253.90" x2="208.48" y2="254.30" stroke="#606060" stroke-width="0.78"/>
<line x1="205.18" y1="254.30" x2="211.78" y2="254.30" stroke="#606060" stroke-width="0.9"/>
<line x1="201.93" y1="252.40" x2="215.03" y2="252.40" stroke="#5a5a5a" stroke-width="1.0"/>
<circle cx="208.48" cy="241.90" r="0.8" fill="#000"/>
<text transform="translate(208.48 239.40) scale(1.050 1)" font-size="10.6" text-anchor="middle">abc</text>
<line x1="228.12" y1="240.40" x2="228.12" y2="243.80" stroke="#606060" stroke-width="0.78"/>
<line x1="224.82" y1="240.40" x2="231.42" y2="240.40" stroke="#606060" stroke-width="0.9"/>
<line x1="228.12" y1="253.90" x2="228.12" y2="256.10" stroke="#606060" stroke-width="0.78"/>
<line x1="224.82" y1="256.10" x2="231.42" y2="256.10" stroke="#606060" stroke-width="0.9"/>
<line x1="221.57" y1="248.50" x2="234.67" y2="248.50" stroke="#5a5a5a" stroke-width="1.0"/>
<circle cx="228.12" cy="248.50" r="0.8" fill="#000"/>
<text transform="translate(228.12 237.90) scale(1.050 1)" font-size="10.6" text-anchor="middle">bc</text>
<line x1="247.75" y1="234.50" x2="247.75" y2="242.90" stroke="#606060" stroke-width="0.78"/>
<line x1="244.45" y1="234.50" x2="251.05" y2="234.50" stroke="#606060" stroke-width="0.9"/>
<line x1="247.75" y1="250.70" x2="247.75" y2="259.50" stroke="#606060" stroke-width="0.78"/>
<line x1="244.45" y1="259.50" x2="251.05" y2="259.50" stroke="#606060" stroke-width="0.9"/>
<line x1="241.20" y1="247.00" x2="254.30" y2="247.00" stroke="#5a5a5a" stroke-width="1.0"/>
<circle cx="247.75" cy="247.00" r="0.8" fill="#000"/>
<text transform="translate(247.75 231.60) scale(1.050 1)" font-size="10.6" text-anchor="middle">e</text>
<line x1="267.38" y1="252.40" x2="267.38" y2="253.60" stroke="#606060" stroke-width="0.78"/>
<line x1="264.08" y1="252.40" x2="270.68" y2="252.40" stroke="#606060" stroke-width="0.9"/>
<line x1="267.38" y1="257.60" x2="267.38" y2="261.10" stroke="#606060" stroke-width="0.78"/>
<line x1="264.08" y1="261.10" x2="270.68" y2="261.10" stroke="#606060" stroke-width="0.9"/>
<line x1="260.83" y1="255.50" x2="273.93" y2="255.50" stroke="#5a5a5a" stroke-width="1.0"/>
<circle cx="267.38" cy="255.50" r="0.8" fill="#000"/>
<text transform="translate(267.38 249.20) scale(1.050 1)" font-size="10.6" text-anchor="middle">a</text>
<rect x="100.50" y="163.95" width="176.70" height="97.35" fill="none" stroke="#3a3a3a" stroke-width="1"/>
<line x1="98.20" y1="261.30" x2="100.50" y2="261.30" stroke="#3a3a3a" stroke-width="0.9"/>
<line x1="99.30" y1="253.19" x2="100.50" y2="253.19" stroke="#3a3a3a" stroke-width="0.7"/>
<text x="97.10" y="262.90" class="tk" font-size="5.5" text-anchor="end">0.000</text>
<line x1="98.20" y1="245.08" x2="100.50" y2="245.08" stroke="#3a3a3a" stroke-width="0.9"/>
<line x1="99.30" y1="236.96" x2="100.50" y2="236.96" stroke="#3a3a3a" stroke-width="0.7"/>
<text x="97.10" y="246.68" class="tk" font-size="5.5" text-anchor="end">0.005</text>
<line x1="98.20" y1="228.85" x2="100.50" y2="228.85" stroke="#3a3a3a" stroke-width="0.9"/>
<line x1="99.30" y1="220.74" x2="100.50" y2="220.74" stroke="#3a3a3a" stroke-width="0.7"/>
<text x="97.10" y="230.45" class="tk" font-size="5.5" text-anchor="end">0.010</text>
<line x1="98.20" y1="212.62" x2="100.50" y2="212.62" stroke="#3a3a3a" stroke-width="0.9"/>
<line x1="99.30" y1="204.51" x2="100.50" y2="204.51" stroke="#3a3a3a" stroke-width="0.7"/>
<text x="97.10" y="214.22" class="tk" font-size="5.5" text-anchor="end">0.015</text>
<line x1="98.20" y1="196.40" x2="100.50" y2="196.40" stroke="#3a3a3a" stroke-width="0.9"/>
<line x1="99.30" y1="188.29" x2="100.50" y2="188.29" stroke="#3a3a3a" stroke-width="0.7"/>
<text x="97.10" y="198.00" class="tk" font-size="5.5" text-anchor="end">0.020</text>
<line x1="98.20" y1="180.18" x2="100.50" y2="180.18" stroke="#3a3a3a" stroke-width="0.9"/>
<line x1="99.30" y1="172.06" x2="100.50" y2="172.06" stroke="#3a3a3a" stroke-width="0.7"/>
<text x="97.10" y="181.78" class="tk" font-size="5.5" text-anchor="end">0.025</text>
<line x1="98.20" y1="163.95" x2="100.50" y2="163.95" stroke="#3a3a3a" stroke-width="0.9"/>
<text x="97.10" y="165.55" class="tk" font-size="5.5" text-anchor="end">0.030</text>
<line x1="110.32" y1="261.30" x2="110.32" y2="263.70" stroke="#3a3a3a" stroke-width="0.9"/>
<text class="xl" x="110.32" y="270.70" font-size="6.80" text-anchor="middle">A<tspan font-size="4.35" dy="1.8">1</tspan></text>
<line x1="129.95" y1="261.30" x2="129.95" y2="263.70" stroke="#3a3a3a" stroke-width="0.9"/>
<text class="xl" x="129.95" y="270.70" font-size="6.80" text-anchor="middle">A<tspan font-size="4.35" dy="1.8">2</tspan></text>
<line x1="149.58" y1="261.30" x2="149.58" y2="263.70" stroke="#3a3a3a" stroke-width="0.9"/>
<text class="xl" x="149.58" y="270.70" font-size="6.80" text-anchor="middle">A<tspan font-size="4.35" dy="1.8">3</tspan></text>
<line x1="169.22" y1="261.30" x2="169.22" y2="263.70" stroke="#3a3a3a" stroke-width="0.9"/>
<text class="xl" x="169.22" y="270.70" font-size="6.80" text-anchor="middle">B<tspan font-size="4.35" dy="1.8">1</tspan></text>
<line x1="188.85" y1="261.30" x2="188.85" y2="263.70" stroke="#3a3a3a" stroke-width="0.9"/>
<text class="xl" x="188.85" y="270.70" font-size="6.80" text-anchor="middle">B<tspan font-size="4.35" dy="1.8">2</tspan></text>
<line x1="208.48" y1="261.30" x2="208.48" y2="263.70" stroke="#3a3a3a" stroke-width="0.9"/>
<text class="xl" x="208.48" y="270.70" font-size="6.80" text-anchor="middle">B<tspan font-size="4.35" dy="1.8">3</tspan></text>
<line x1="228.12" y1="261.30" x2="228.12" y2="263.70" stroke="#3a3a3a" stroke-width="0.9"/>
<text class="xl" x="228.12" y="270.70" font-size="6.80" text-anchor="middle">C<tspan font-size="4.35" dy="1.8">1</tspan></text>
<line x1="247.75" y1="261.30" x2="247.75" y2="263.70" stroke="#3a3a3a" stroke-width="0.9"/>
<text class="xl" x="247.75" y="270.70" font-size="6.80" text-anchor="middle">C<tspan font-size="4.35" dy="1.8">2</tspan></text>
<line x1="267.38" y1="261.30" x2="267.38" y2="263.70" stroke="#3a3a3a" stroke-width="0.9"/>
<text class="xl" x="267.38" y="270.70" font-size="6.80" text-anchor="middle">C<tspan font-size="4.35" dy="1.8">3</tspan></text>
<text class="big" transform="translate(185.95 156.80) scale(0.920 1)" font-size="24.6">r</text>
<text class="sub" x="195.80" y="159.80" font-size="15.0">c</text>
</g>
<g>
<rect x="310.15" y="247.90" width="13.10" height="4.80" fill="#e8bc50"/>
<rect x="329.75" y="251.80" width="13.10" height="4.90" fill="#e8bc50"/>
<rect x="349.35" y="251.20" width="13.10" height="7.60" fill="#e8bc50"/>
<rect x="368.95" y="244.80" width="13.10" height="8.70" fill="#e8bc50"/>
<rect x="388.55" y="239.80" width="13.10" height="11.90" fill="#e8bc50"/>
<rect x="408.15" y="241.20" width="13.10" height="16.80" fill="#e8bc50"/>
<rect x="427.75" y="231.40" width="13.10" height="18.10" fill="#e8bc50"/>
<rect x="447.35" y="247.00" width="13.10" height="6.40" fill="#e8bc50"/>
<rect x="466.95" y="240.10" width="13.10" height="4.50" fill="#e8bc50"/>
<line x1="306.90" y1="228.80" x2="483.30" y2="228.80" stroke="#333" stroke-width="1.15" stroke-dasharray="4.40 3.20"/>
<rect x="431.70" y="221.00" width="5.20" height="8.70" fill="#fff"/>
<line x1="313.40" y1="248.50" x2="320.00" y2="248.50" stroke="#3c3c3c" stroke-width="0.9"/>
<line x1="316.70" y1="252.70" x2="316.70" y2="254.20" stroke="#3c3c3c" stroke-width="0.78"/>
<line x1="313.40" y1="254.20" x2="320.00" y2="254.20" stroke="#3c3c3c" stroke-width="0.9"/>
<line x1="310.15" y1="250.10" x2="323.25" y2="250.10" stroke="#4a3a12" stroke-width="1.0"/>
<circle cx="316.70" cy="238.40" r="0.8" fill="#000"/>
<circle cx="316.70" cy="240.80" r="0.8" fill="#000"/>
<circle cx="316.70" cy="259.30" r="0.8" fill="#000"/>
<text transform="translate(316.70 234.20) scale(1.050 1)" font-size="10.6" text-anchor="middle">ab</text>
<line x1="336.30" y1="246.40" x2="336.30" y2="251.80" stroke="#3c3c3c" stroke-width="0.78"/>
<line x1="333.00" y1="246.40" x2="339.60" y2="246.40" stroke="#3c3c3c" stroke-width="0.9"/>
<line x1="336.30" y1="256.70" x2="336.30" y2="258.40" stroke="#3c3c3c" stroke-width="0.78"/>
<line x1="333.00" y1="258.40" x2="339.60" y2="258.40" stroke="#3c3c3c" stroke-width="0.9"/>
<line x1="329.75" y1="254.20" x2="342.85" y2="254.20" stroke="#4a3a12" stroke-width="1.0"/>
<circle cx="336.30" cy="225.70" r="0.8" fill="#000"/>
<text transform="translate(336.30 244.00) scale(1.050 1)" font-size="10.6" text-anchor="middle">a</text>
<line x1="355.90" y1="247.20" x2="355.90" y2="251.20" stroke="#3c3c3c" stroke-width="0.78"/>
<line x1="352.60" y1="247.20" x2="359.20" y2="247.20" stroke="#3c3c3c" stroke-width="0.9"/>
<line x1="355.90" y1="258.80" x2="355.90" y2="259.30" stroke="#3c3c3c" stroke-width="0.78"/>
<line x1="352.60" y1="259.30" x2="359.20" y2="259.30" stroke="#3c3c3c" stroke-width="0.9"/>
<line x1="349.35" y1="252.90" x2="362.45" y2="252.90" stroke="#4a3a12" stroke-width="1.0"/>
<circle cx="355.90" cy="253.80" r="0.8" fill="#000"/>
<text transform="translate(355.90 244.70) scale(1.050 1)" font-size="10.6" text-anchor="middle">a</text>
<line x1="375.50" y1="239.70" x2="375.50" y2="244.80" stroke="#3c3c3c" stroke-width="0.78"/>
<line x1="372.20" y1="239.70" x2="378.80" y2="239.70" stroke="#3c3c3c" stroke-width="0.9"/>
<line x1="375.50" y1="253.50" x2="375.50" y2="260.10" stroke="#3c3c3c" stroke-width="0.78"/>
<line x1="372.20" y1="260.10" x2="378.80" y2="260.10" stroke="#3c3c3c" stroke-width="0.9"/>
<line x1="368.95" y1="249.20" x2="382.05" y2="249.20" stroke="#4a3a12" stroke-width="1.0"/>
<circle cx="375.50" cy="249.20" r="0.8" fill="#000"/>
<text transform="translate(375.50 237.10) scale(1.050 1)" font-size="10.6" text-anchor="middle">ab</text>
<line x1="395.10" y1="232.70" x2="395.10" y2="239.80" stroke="#3c3c3c" stroke-width="0.78"/>
<line x1="391.80" y1="232.70" x2="398.40" y2="232.70" stroke="#3c3c3c" stroke-width="0.9"/>
<line x1="395.10" y1="251.70" x2="395.10" y2="253.40" stroke="#3c3c3c" stroke-width="0.78"/>
<line x1="391.80" y1="253.40" x2="398.40" y2="253.40" stroke="#3c3c3c" stroke-width="0.9"/>
<line x1="388.55" y1="247.20" x2="401.65" y2="247.20" stroke="#4a3a12" stroke-width="1.0"/>
<circle cx="395.10" cy="245.10" r="0.8" fill="#000"/>
<text transform="translate(395.10 230.50) scale(1.050 1)" font-size="10.6" text-anchor="middle">ab</text>
<line x1="414.70" y1="232.70" x2="414.70" y2="241.20" stroke="#3c3c3c" stroke-width="0.78"/>
<line x1="411.40" y1="232.70" x2="418.00" y2="232.70" stroke="#3c3c3c" stroke-width="0.9"/>
<line x1="414.70" y1="258.00" x2="414.70" y2="259.00" stroke="#3c3c3c" stroke-width="0.78"/>
<line x1="411.40" y1="259.00" x2="418.00" y2="259.00" stroke="#3c3c3c" stroke-width="0.9"/>
<line x1="408.15" y1="248.20" x2="421.25" y2="248.20" stroke="#4a3a12" stroke-width="1.0"/>
<circle cx="414.70" cy="247.40" r="0.8" fill="#000"/>
<text transform="translate(414.70 230.50) scale(1.050 1)" font-size="10.6" text-anchor="middle">ab</text>
<line x1="434.30" y1="230.60" x2="434.30" y2="231.40" stroke="#3c3c3c" stroke-width="0.78"/>
<line x1="431.00" y1="230.60" x2="437.60" y2="230.60" stroke="#3c3c3c" stroke-width="0.9"/>
<line x1="434.30" y1="249.50" x2="434.30" y2="259.40" stroke="#3c3c3c" stroke-width="0.78"/>
<line x1="431.00" y1="259.40" x2="437.60" y2="259.40" stroke="#3c3c3c" stroke-width="0.9"/>
<line x1="427.75" y1="239.00" x2="440.85" y2="239.00" stroke="#4a3a12" stroke-width="1.0"/>
<circle cx="434.30" cy="238.20" r="0.8" fill="#000"/>
<circle cx="434.30" cy="199.80" r="0.8" fill="#000"/>
<text transform="translate(434.30 227.30) scale(1.050 1)" font-size="10.6" text-anchor="middle">b</text>
<line x1="453.90" y1="246.30" x2="453.90" y2="247.00" stroke="#3c3c3c" stroke-width="0.78"/>
<line x1="450.60" y1="246.30" x2="457.20" y2="246.30" stroke="#3c3c3c" stroke-width="0.9"/>
<line x1="453.90" y1="253.40" x2="453.90" y2="258.50" stroke="#3c3c3c" stroke-width="0.78"/>
<line x1="450.60" y1="258.50" x2="457.20" y2="258.50" stroke="#3c3c3c" stroke-width="0.9"/>
<line x1="447.35" y1="247.30" x2="460.45" y2="247.30" stroke="#4a3a12" stroke-width="1.0"/>
<circle cx="453.90" cy="225.10" r="0.8" fill="#000"/>
<text transform="translate(453.90 243.40) scale(1.050 1)" font-size="10.6" text-anchor="middle">ab</text>
<line x1="473.50" y1="236.80" x2="473.50" y2="240.10" stroke="#3c3c3c" stroke-width="0.78"/>
<line x1="470.20" y1="236.80" x2="476.80" y2="236.80" stroke="#3c3c3c" stroke-width="0.9"/>
<line x1="473.50" y1="244.60" x2="473.50" y2="247.40" stroke="#3c3c3c" stroke-width="0.78"/>
<line x1="470.20" y1="247.40" x2="476.80" y2="247.40" stroke="#3c3c3c" stroke-width="0.9"/>
<line x1="466.95" y1="242.20" x2="480.05" y2="242.20" stroke="#4a3a12" stroke-width="1.0"/>
<circle cx="473.50" cy="242.20" r="0.8" fill="#000"/>
<text transform="translate(473.50 234.60) scale(1.050 1)" font-size="10.6" text-anchor="middle">ab</text>
<rect x="306.90" y="163.80" width="176.40" height="97.50" fill="none" stroke="#3a3a3a" stroke-width="1"/>
<line x1="304.60" y1="261.30" x2="306.90" y2="261.30" stroke="#3a3a3a" stroke-width="0.9"/>
<line x1="305.70" y1="253.18" x2="306.90" y2="253.18" stroke="#3a3a3a" stroke-width="0.7"/>
<text x="303.50" y="262.90" class="tk" font-size="5.5" text-anchor="end">0.000</text>
<line x1="304.60" y1="245.05" x2="306.90" y2="245.05" stroke="#3a3a3a" stroke-width="0.9"/>
<line x1="305.70" y1="236.93" x2="306.90" y2="236.93" stroke="#3a3a3a" stroke-width="0.7"/>
<text x="303.50" y="246.65" class="tk" font-size="5.5" text-anchor="end">0.005</text>
<line x1="304.60" y1="228.80" x2="306.90" y2="228.80" stroke="#3a3a3a" stroke-width="0.9"/>
<line x1="305.70" y1="220.68" x2="306.90" y2="220.68" stroke="#3a3a3a" stroke-width="0.7"/>
<text x="303.50" y="230.40" class="tk" font-size="5.5" text-anchor="end">0.010</text>
<line x1="304.60" y1="212.55" x2="306.90" y2="212.55" stroke="#3a3a3a" stroke-width="0.9"/>
<line x1="305.70" y1="204.43" x2="306.90" y2="204.43" stroke="#3a3a3a" stroke-width="0.7"/>
<text x="303.50" y="214.15" class="tk" font-size="5.5" text-anchor="end">0.015</text>
<line x1="304.60" y1="196.30" x2="306.90" y2="196.30" stroke="#3a3a3a" stroke-width="0.9"/>
<line x1="305.70" y1="188.18" x2="306.90" y2="188.18" stroke="#3a3a3a" stroke-width="0.7"/>
<text x="303.50" y="197.90" class="tk" font-size="5.5" text-anchor="end">0.020</text>
<line x1="304.60" y1="180.05" x2="306.90" y2="180.05" stroke="#3a3a3a" stroke-width="0.9"/>
<line x1="305.70" y1="171.93" x2="306.90" y2="171.93" stroke="#3a3a3a" stroke-width="0.7"/>
<text x="303.50" y="181.65" class="tk" font-size="5.5" text-anchor="end">0.025</text>
<line x1="304.60" y1="163.80" x2="306.90" y2="163.80" stroke="#3a3a3a" stroke-width="0.9"/>
<text x="303.50" y="165.40" class="tk" font-size="5.5" text-anchor="end">0.030</text>
<line x1="316.70" y1="261.30" x2="316.70" y2="263.70" stroke="#3a3a3a" stroke-width="0.9"/>
<text class="xl" x="316.70" y="270.70" font-size="6.80" text-anchor="middle">A<tspan font-size="4.35" dy="1.8">1</tspan></text>
<line x1="336.30" y1="261.30" x2="336.30" y2="263.70" stroke="#3a3a3a" stroke-width="0.9"/>
<text class="xl" x="336.30" y="270.70" font-size="6.80" text-anchor="middle">A<tspan font-size="4.35" dy="1.8">2</tspan></text>
<line x1="355.90" y1="261.30" x2="355.90" y2="263.70" stroke="#3a3a3a" stroke-width="0.9"/>
<text class="xl" x="355.90" y="270.70" font-size="6.80" text-anchor="middle">A<tspan font-size="4.35" dy="1.8">3</tspan></text>
<line x1="375.50" y1="261.30" x2="375.50" y2="263.70" stroke="#3a3a3a" stroke-width="0.9"/>
<text class="xl" x="375.50" y="270.70" font-size="6.80" text-anchor="middle">B<tspan font-size="4.35" dy="1.8">1</tspan></text>
<line x1="395.10" y1="261.30" x2="395.10" y2="263.70" stroke="#3a3a3a" stroke-width="0.9"/>
<text class="xl" x="395.10" y="270.70" font-size="6.80" text-anchor="middle">B<tspan font-size="4.35" dy="1.8">2</tspan></text>
<line x1="414.70" y1="261.30" x2="414.70" y2="263.70" stroke="#3a3a3a" stroke-width="0.9"/>
<text class="xl" x="414.70" y="270.70" font-size="6.80" text-anchor="middle">B<tspan font-size="4.35" dy="1.8">3</tspan></text>
<line x1="434.30" y1="261.30" x2="434.30" y2="263.70" stroke="#3a3a3a" stroke-width="0.9"/>
<text class="xl" x="434.30" y="270.70" font-size="6.80" text-anchor="middle">C<tspan font-size="4.35" dy="1.8">1</tspan></text>
<line x1="453.90" y1="261.30" x2="453.90" y2="263.70" stroke="#3a3a3a" stroke-width="0.9"/>
<text class="xl" x="453.90" y="270.70" font-size="6.80" text-anchor="middle">C<tspan font-size="4.35" dy="1.8">2</tspan></text>
<line x1="473.50" y1="261.30" x2="473.50" y2="263.70" stroke="#3a3a3a" stroke-width="0.9"/>
<text class="xl" x="473.50" y="270.70" font-size="6.80" text-anchor="middle">C<tspan font-size="4.35" dy="1.8">3</tspan></text>
<text class="big" transform="translate(388.60 157.45) scale(0.920 1)" font-size="24.6">r</text>
<text class="sub" x="398.70" y="160.60" font-size="15.0">d</text>
</g>
<g>
<rect x="511.14" y="251.70" width="13.10" height="5.90" fill="#c3cbf0"/>
<rect x="530.73" y="256.50" width="13.10" height="3.40" fill="#c3cbf0"/>
<rect x="550.32" y="253.20" width="13.10" height="6.30" fill="#c3cbf0"/>
<rect x="569.91" y="246.30" width="13.10" height="4.70" fill="#c3cbf0"/>
<rect x="589.50" y="246.60" width="13.10" height="13.60" fill="#c3cbf0"/>
<rect x="609.09" y="247.70" width="13.10" height="11.80" fill="#c3cbf0"/>
<rect x="628.68" y="242.60" width="13.10" height="15.00" fill="#c3cbf0"/>
<rect x="648.27" y="255.40" width="13.10" height="3.00" fill="#c3cbf0"/>
<rect x="667.86" y="248.00" width="13.10" height="6.30" fill="#c3cbf0"/>
<line x1="507.90" y1="228.80" x2="684.20" y2="228.80" stroke="#333" stroke-width="1.40" stroke-dasharray="4.30 3.30"/>
<line x1="517.69" y1="251.40" x2="517.69" y2="251.70" stroke="#3c3c3c" stroke-width="0.78"/>
<line x1="514.39" y1="251.40" x2="520.99" y2="251.40" stroke="#3c3c3c" stroke-width="0.9"/>
<line x1="517.69" y1="257.60" x2="517.69" y2="259.50" stroke="#3c3c3c" stroke-width="0.78"/>
<line x1="514.39" y1="259.50" x2="520.99" y2="259.50" stroke="#3c3c3c" stroke-width="0.9"/>
<line x1="511.14" y1="254.30" x2="524.24" y2="254.30" stroke="#3c4058" stroke-width="1.0"/>
<circle cx="517.69" cy="225.60" r="0.8" fill="#000"/>
<circle cx="517.69" cy="241.40" r="0.8" fill="#000"/>
<text transform="translate(517.69 248.90) scale(1.050 1)" font-size="10.6" text-anchor="middle">a</text>
<line x1="537.28" y1="256.10" x2="537.28" y2="256.50" stroke="#3c3c3c" stroke-width="0.78"/>
<line x1="533.98" y1="256.10" x2="540.58" y2="256.10" stroke="#3c3c3c" stroke-width="0.9"/>
<line x1="537.28" y1="259.90" x2="537.28" y2="261.10" stroke="#3c3c3c" stroke-width="0.78"/>
<line x1="533.98" y1="261.10" x2="540.58" y2="261.10" stroke="#3c3c3c" stroke-width="0.9"/>
<line x1="530.73" y1="258.40" x2="543.83" y2="258.40" stroke="#3c4058" stroke-width="1.0"/>
<circle cx="537.28" cy="234.80" r="0.8" fill="#000"/>
<circle cx="537.28" cy="250.70" r="0.8" fill="#000"/>
<text transform="translate(537.28 248.00) scale(1.050 1)" font-size="10.6" text-anchor="middle">a</text>
<line x1="556.87" y1="246.60" x2="556.87" y2="253.20" stroke="#3c3c3c" stroke-width="0.78"/>
<line x1="553.57" y1="246.60" x2="560.17" y2="246.60" stroke="#3c3c3c" stroke-width="0.9"/>
<line x1="556.87" y1="259.50" x2="556.87" y2="261.10" stroke="#3c3c3c" stroke-width="0.78"/>
<line x1="553.57" y1="261.10" x2="560.17" y2="261.10" stroke="#3c3c3c" stroke-width="0.9"/>
<line x1="550.32" y1="256.20" x2="563.42" y2="256.20" stroke="#3c4058" stroke-width="1.0"/>
<circle cx="556.87" cy="255.40" r="0.8" fill="#000"/>
<text transform="translate(556.87 244.10) scale(1.050 1)" font-size="10.6" text-anchor="middle">a</text>
<line x1="576.46" y1="246.00" x2="576.46" y2="246.30" stroke="#3c3c3c" stroke-width="0.78"/>
<line x1="573.16" y1="246.00" x2="579.76" y2="246.00" stroke="#3c3c3c" stroke-width="0.9"/>
<line x1="576.46" y1="251.00" x2="576.46" y2="257.60" stroke="#3c3c3c" stroke-width="0.78"/>
<line x1="573.16" y1="257.60" x2="579.76" y2="257.60" stroke="#3c3c3c" stroke-width="0.9"/>
<line x1="569.91" y1="249.50" x2="583.01" y2="249.50" stroke="#3c4058" stroke-width="1.0"/>
<circle cx="576.46" cy="213.60" r="0.8" fill="#000"/>
<circle cx="576.46" cy="221.40" r="0.8" fill="#000"/>
<circle cx="576.46" cy="244.10" r="0.8" fill="#000"/>
<text transform="translate(576.46 241.10) scale(1.050 1)" font-size="10.6" text-anchor="middle">a</text>
<line x1="596.05" y1="241.40" x2="596.05" y2="246.60" stroke="#3c3c3c" stroke-width="0.78"/>
<line x1="592.75" y1="241.40" x2="599.35" y2="241.40" stroke="#3c3c3c" stroke-width="0.9"/>
<line x1="596.05" y1="260.20" x2="596.05" y2="261.10" stroke="#3c3c3c" stroke-width="0.78"/>
<line x1="592.75" y1="261.10" x2="599.35" y2="261.10" stroke="#3c3c3c" stroke-width="0.9"/>
<line x1="589.50" y1="258.40" x2="602.60" y2="258.40" stroke="#3c4058" stroke-width="1.0"/>
<circle cx="596.05" cy="254.80" r="0.8" fill="#000"/>
<text transform="translate(596.05 238.90) scale(1.050 1)" font-size="10.6" text-anchor="middle">a</text>
<line x1="615.64" y1="246.70" x2="615.64" y2="247.70" stroke="#3c3c3c" stroke-width="0.78"/>
<line x1="612.34" y1="246.70" x2="618.94" y2="246.70" stroke="#3c3c3c" stroke-width="0.9"/>
<line x1="615.64" y1="259.50" x2="615.64" y2="259.90" stroke="#3c3c3c" stroke-width="0.78"/>
<line x1="612.34" y1="259.90" x2="618.94" y2="259.90" stroke="#3c3c3c" stroke-width="0.9"/>
<line x1="609.09" y1="253.20" x2="622.19" y2="253.20" stroke="#3c4058" stroke-width="1.0"/>
<circle cx="615.64" cy="253.20" r="0.8" fill="#000"/>
<text transform="translate(615.64 244.10) scale(1.050 1)" font-size="10.6" text-anchor="middle">a</text>
<line x1="635.23" y1="235.00" x2="635.23" y2="242.60" stroke="#3c3c3c" stroke-width="0.78"/>
<line x1="631.93" y1="235.00" x2="638.53" y2="235.00" stroke="#3c3c3c" stroke-width="0.9"/>
<line x1="635.23" y1="257.60" x2="635.23" y2="260.20" stroke="#3c3c3c" stroke-width="0.78"/>
<line x1="631.93" y1="260.20" x2="638.53" y2="260.20" stroke="#3c3c3c" stroke-width="0.9"/>
<line x1="628.68" y1="254.30" x2="641.78" y2="254.30" stroke="#3c4058" stroke-width="1.0"/>
<circle cx="635.23" cy="250.20" r="0.8" fill="#000"/>
<text transform="translate(635.23 232.60) scale(1.050 1)" font-size="10.6" text-anchor="middle">a</text>
<line x1="654.82" y1="254.80" x2="654.82" y2="255.40" stroke="#3c3c3c" stroke-width="0.78"/>
<line x1="651.52" y1="254.80" x2="658.12" y2="254.80" stroke="#3c3c3c" stroke-width="0.9"/>
<line x1="654.82" y1="258.40" x2="654.82" y2="261.10" stroke="#3c3c3c" stroke-width="0.78"/>
<line x1="651.52" y1="261.10" x2="658.12" y2="261.10" stroke="#3c3c3c" stroke-width="0.9"/>
<line x1="648.27" y1="257.30" x2="661.37" y2="257.30" stroke="#3c4058" stroke-width="1.0"/>
<circle cx="654.82" cy="238.90" r="0.8" fill="#000"/>
<circle cx="654.82" cy="242.30" r="0.8" fill="#000"/>
<text transform="translate(654.82 251.80) scale(1.050 1)" font-size="10.6" text-anchor="middle">a</text>
<line x1="674.41" y1="244.40" x2="674.41" y2="248.00" stroke="#3c3c3c" stroke-width="0.78"/>
<line x1="671.11" y1="244.40" x2="677.71" y2="244.40" stroke="#3c3c3c" stroke-width="0.9"/>
<line x1="674.41" y1="254.30" x2="674.41" y2="259.90" stroke="#3c3c3c" stroke-width="0.78"/>
<line x1="671.11" y1="259.90" x2="677.71" y2="259.90" stroke="#3c3c3c" stroke-width="0.9"/>
<line x1="667.86" y1="251.40" x2="680.96" y2="251.40" stroke="#3c4058" stroke-width="1.0"/>
<circle cx="674.41" cy="251.40" r="0.8" fill="#000"/>
<text transform="translate(674.41 241.40) scale(1.050 1)" font-size="10.6" text-anchor="middle">a</text>
<rect x="507.90" y="163.80" width="176.30" height="97.50" fill="none" stroke="#3a3a3a" stroke-width="1"/>
<line x1="505.60" y1="261.30" x2="507.90" y2="261.30" stroke="#3a3a3a" stroke-width="0.9"/>
<line x1="506.70" y1="253.18" x2="507.90" y2="253.18" stroke="#3a3a3a" stroke-width="0.7"/>
<text x="504.50" y="262.90" class="tk" font-size="5.5" text-anchor="end">0.000</text>
<line x1="505.60" y1="245.05" x2="507.90" y2="245.05" stroke="#3a3a3a" stroke-width="0.9"/>
<line x1="506.70" y1="236.93" x2="507.90" y2="236.93" stroke="#3a3a3a" stroke-width="0.7"/>
<text x="504.50" y="246.65" class="tk" font-size="5.5" text-anchor="end">0.005</text>
<line x1="505.60" y1="228.80" x2="507.90" y2="228.80" stroke="#3a3a3a" stroke-width="0.9"/>
<line x1="506.70" y1="220.68" x2="507.90" y2="220.68" stroke="#3a3a3a" stroke-width="0.7"/>
<text x="504.50" y="230.40" class="tk" font-size="5.5" text-anchor="end">0.010</text>
<line x1="505.60" y1="212.55" x2="507.90" y2="212.55" stroke="#3a3a3a" stroke-width="0.9"/>
<line x1="506.70" y1="204.43" x2="507.90" y2="204.43" stroke="#3a3a3a" stroke-width="0.7"/>
<text x="504.50" y="214.15" class="tk" font-size="5.5" text-anchor="end">0.015</text>
<line x1="505.60" y1="196.30" x2="507.90" y2="196.30" stroke="#3a3a3a" stroke-width="0.9"/>
<line x1="506.70" y1="188.18" x2="507.90" y2="188.18" stroke="#3a3a3a" stroke-width="0.7"/>
<text x="504.50" y="197.90" class="tk" font-size="5.5" text-anchor="end">0.020</text>
<line x1="505.60" y1="180.05" x2="507.90" y2="180.05" stroke="#3a3a3a" stroke-width="0.9"/>
<line x1="506.70" y1="171.93" x2="507.90" y2="171.93" stroke="#3a3a3a" stroke-width="0.7"/>
<text x="504.50" y="181.65" class="tk" font-size="5.5" text-anchor="end">0.025</text>
<line x1="505.60" y1="163.80" x2="507.90" y2="163.80" stroke="#3a3a3a" stroke-width="0.9"/>
<text x="504.50" y="165.40" class="tk" font-size="5.5" text-anchor="end">0.030</text>
<line x1="517.69" y1="261.30" x2="517.69" y2="263.70" stroke="#3a3a3a" stroke-width="0.9"/>
<text class="xl" x="517.69" y="270.70" font-size="6.80" text-anchor="middle">A<tspan font-size="4.35" dy="1.8">1</tspan></text>
<line x1="537.28" y1="261.30" x2="537.28" y2="263.70" stroke="#3a3a3a" stroke-width="0.9"/>
<text class="xl" x="537.28" y="270.70" font-size="6.80" text-anchor="middle">A<tspan font-size="4.35" dy="1.8">2</tspan></text>
<line x1="556.87" y1="261.30" x2="556.87" y2="263.70" stroke="#3a3a3a" stroke-width="0.9"/>
<text class="xl" x="556.87" y="270.70" font-size="6.80" text-anchor="middle">A<tspan font-size="4.35" dy="1.8">3</tspan></text>
<line x1="576.46" y1="261.30" x2="576.46" y2="263.70" stroke="#3a3a3a" stroke-width="0.9"/>
<text class="xl" x="576.46" y="270.70" font-size="6.80" text-anchor="middle">B<tspan font-size="4.35" dy="1.8">1</tspan></text>
<line x1="596.05" y1="261.30" x2="596.05" y2="263.70" stroke="#3a3a3a" stroke-width="0.9"/>
<text class="xl" x="596.05" y="270.70" font-size="6.80" text-anchor="middle">B<tspan font-size="4.35" dy="1.8">2</tspan></text>
<line x1="615.64" y1="261.30" x2="615.64" y2="263.70" stroke="#3a3a3a" stroke-width="0.9"/>
<text class="xl" x="615.64" y="270.70" font-size="6.80" text-anchor="middle">B<tspan font-size="4.35" dy="1.8">3</tspan></text>
<line x1="635.23" y1="261.30" x2="635.23" y2="263.70" stroke="#3a3a3a" stroke-width="0.9"/>
<text class="xl" x="635.23" y="270.70" font-size="6.80" text-anchor="middle">C<tspan font-size="4.35" dy="1.8">1</tspan></text>
<line x1="654.82" y1="261.30" x2="654.82" y2="263.70" stroke="#3a3a3a" stroke-width="0.9"/>
<text class="xl" x="654.82" y="270.70" font-size="6.80" text-anchor="middle">C<tspan font-size="4.35" dy="1.8">2</tspan></text>
<line x1="674.41" y1="261.30" x2="674.41" y2="263.70" stroke="#3a3a3a" stroke-width="0.9"/>
<text class="xl" x="674.41" y="270.70" font-size="6.80" text-anchor="middle">C<tspan font-size="4.35" dy="1.8">3</tspan></text>
<text class="big" transform="translate(592.60 159.60) scale(0.970 1)" font-size="23.6">d</text>
</g>
</g>
</svg>
</body></html>
